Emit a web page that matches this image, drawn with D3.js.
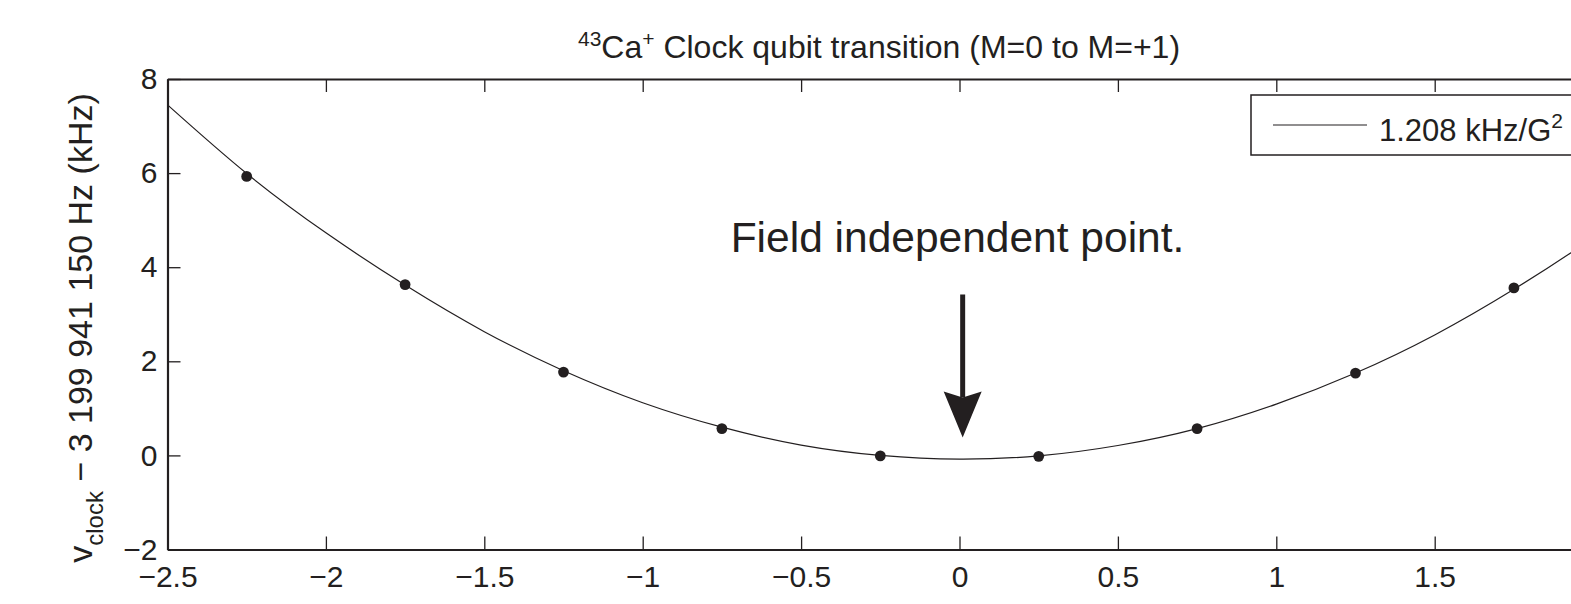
<!DOCTYPE html>
<html>
<head>
<meta charset="utf-8">
<script src="https://cdn.jsdelivr.net/npm/d3@7"></script>
<style>
  html, body { margin: 0; padding: 0; background: #fff; overflow: hidden; }
  svg { display: block; font-family: "Liberation Sans", Arial, Helvetica, sans-serif; }
</style>
</head>
<body>
<svg id="chart" width="1571" height="604"></svg>
<script>
// ---- data ----
const xTicks = [-2.5, -2, -1.5, -1, -0.5, 0, 0.5, 1, 1.5, 2, 2.5];
const yTicks = [-2, 0, 2, 4, 6, 8];
const pointX = [-2.25, -1.75, -1.25, -0.75, -0.25, 0.25, 0.75, 1.25, 1.75];
const pointY = [5.93, 3.63, 1.77, 0.57, -0.01, -0.02, 0.57, 1.75, 3.56];
const fitX = [-2.5, -2.25, -2, -1.75, -1.5, -1.25, -1, -0.75, -0.5, -0.25, 0, 0.25, 0.5, 0.75, 1, 1.25, 1.5, 1.75, 2, 2.25, 2.5];
const fitY = [7.45, 5.99, 4.73, 3.62, 2.63, 1.80, 1.12, 0.60, 0.22, 0.0, -0.08, -0.01, 0.21, 0.57, 1.09, 1.75, 2.56, 3.53, 4.63, 5.89, 7.30];
const legendLabel = "1.208 kHz/G";
const titleParts = ["43", "Ca", "+", " Clock qubit transition (M=0 to M=+1)"];
const annotationText = "Field independent point.";
const arrowFrom = [0.01, 3.42];
const arrowTo = [0.01, 0.38];

// ---- layout ----
const W = 1571;
const ink = "#231f20";
const svg = d3.select("#chart");
const mLeft = 167.5, mTop = 79, mBottom = 549.5, mRight = 1751.5;

const x = d3.scaleLinear().domain([-2.5, 2.5]).range([mLeft, mRight]);
const y = d3.scaleLinear().domain([-2, 8]).range([mBottom, mTop]);
const fmt = d => (d < 0 ? "\u2212" + Math.abs(d) : String(d));

svg.append("defs").append("clipPath").attr("id", "plotclip")
  .append("rect").attr("x", mLeft).attr("y", mTop).attr("width", mRight - mLeft).attr("height", mBottom - mTop);

// fit curve
const fitData = fitX.map((d, i) => [d, fitY[i]]);
svg.append("path")
  .datum(fitData)
  .attr("clip-path", "url(#plotclip)")
  .attr("fill", "none")
  .attr("stroke", ink)
  .attr("stroke-width", 1.2)
  .attr("d", d3.line().x(d => x(d[0])).y(d => y(d[1])).curve(d3.curveNatural));

// data points
svg.append("g").selectAll("circle")
  .data(pointX.map((d, i) => [d, pointY[i]]))
  .join("circle")
  .attr("cx", d => x(d[0]))
  .attr("cy", d => y(d[1]))
  .attr("r", 5.4)
  .attr("fill", ink);

// axes
function styleAxis(g) {
  g.selectAll("path.domain").attr("stroke", ink).attr("stroke-width", 2.2);
  g.selectAll(".tick line").attr("stroke", ink).attr("stroke-width", 1.3);
  g.selectAll(".tick text").attr("fill", ink).attr("font-size", 30)
    .attr("font-family", "'Liberation Sans', Arial, sans-serif");
}
const xAxisG = svg.append("g").attr("transform", `translate(0,${mBottom})`)
  .call(d3.axisBottom(x).tickValues(xTicks).tickSize(-13).tickSizeOuter(0).tickPadding(16).tickFormat(fmt))
  .call(styleAxis);
// labels whose tick lies outside the visible window are not shown in the reference
xAxisG.selectAll(".tick").filter(d => x(d) > W).select("text").remove();

svg.append("g").attr("transform", `translate(0,${mTop})`)
  .call(d3.axisTop(x).tickValues(xTicks).tickSize(-13).tickSizeOuter(0).tickFormat(""))
  .call(styleAxis);
svg.append("g").attr("transform", `translate(${mLeft},0)`)
  .call(d3.axisLeft(y).tickValues(yTicks).tickSize(-13).tickSizeOuter(0).tickPadding(10).tickFormat(fmt))
  .call(styleAxis);
svg.append("g").attr("transform", `translate(${mRight},0)`)
  .call(d3.axisRight(y).tickValues(yTicks).tickSize(-13).tickSizeOuter(0).tickFormat(""))
  .call(styleAxis);

// title
const title = svg.append("text")
  .attr("x", 879).attr("y", 58)
  .attr("text-anchor", "middle")
  .attr("font-size", 32).attr("fill", ink);
title.append("tspan").text(titleParts[0]).attr("font-size", 21).attr("dy", -12);
title.append("tspan").text(titleParts[1]).attr("dy", 12);
title.append("tspan").text(titleParts[2]).attr("font-size", 21).attr("dy", -12);
title.append("tspan").text(titleParts[3]).attr("dy", 12);

// y-axis label
const ylab = svg.append("text")
  .attr("transform", "translate(92,328) rotate(-90)")
  .attr("text-anchor", "middle")
  .attr("font-size", 34).attr("fill", ink);
ylab.append("tspan").text("v");
ylab.append("tspan").text("clock").attr("font-size", 24).attr("dy", 11);
ylab.append("tspan").text(" \u2212 3 199 941 150 Hz (kHz)").attr("dy", -11);

// annotation
svg.append("text")
  .attr("x", x(0) - 2).attr("y", 252)
  .attr("text-anchor", "middle")
  .attr("font-size", 42.5).attr("fill", ink)
  .text(annotationText);

const ax = x(arrowFrom[0]);
const ay0 = y(arrowFrom[1]);
const ay1 = y(arrowTo[1]);
const headLen = 46, headHalf = 19;
svg.append("line")
  .attr("x1", ax).attr("x2", ax)
  .attr("y1", ay0).attr("y2", ay1 - headLen + 6)
  .attr("stroke", ink).attr("stroke-width", 5);
svg.append("path")
  .attr("d", `M${ax},${ay1} L${ax - headHalf},${ay1 - headLen} L${ax},${ay1 - headLen + 6} L${ax + headHalf},${ay1 - headLen} Z`)
  .attr("fill", ink);

// legend
const lg = svg.append("g");
lg.append("rect")
  .attr("x", 1251).attr("y", 95).attr("width", 560).attr("height", 60)
  .attr("fill", "#fff").attr("stroke", ink).attr("stroke-width", 1.5);
lg.append("line")
  .attr("x1", 1273).attr("x2", 1367).attr("y1", 125).attr("y2", 125)
  .attr("stroke", ink).attr("stroke-width", 1.2);
const lt = lg.append("text")
  .attr("x", 1379).attr("y", 141)
  .attr("font-size", 31).attr("fill", ink);
lt.append("tspan").text(legendLabel);
lt.append("tspan").text("2").attr("font-size", 21).attr("dy", -13);
</script>
</body>
</html>
